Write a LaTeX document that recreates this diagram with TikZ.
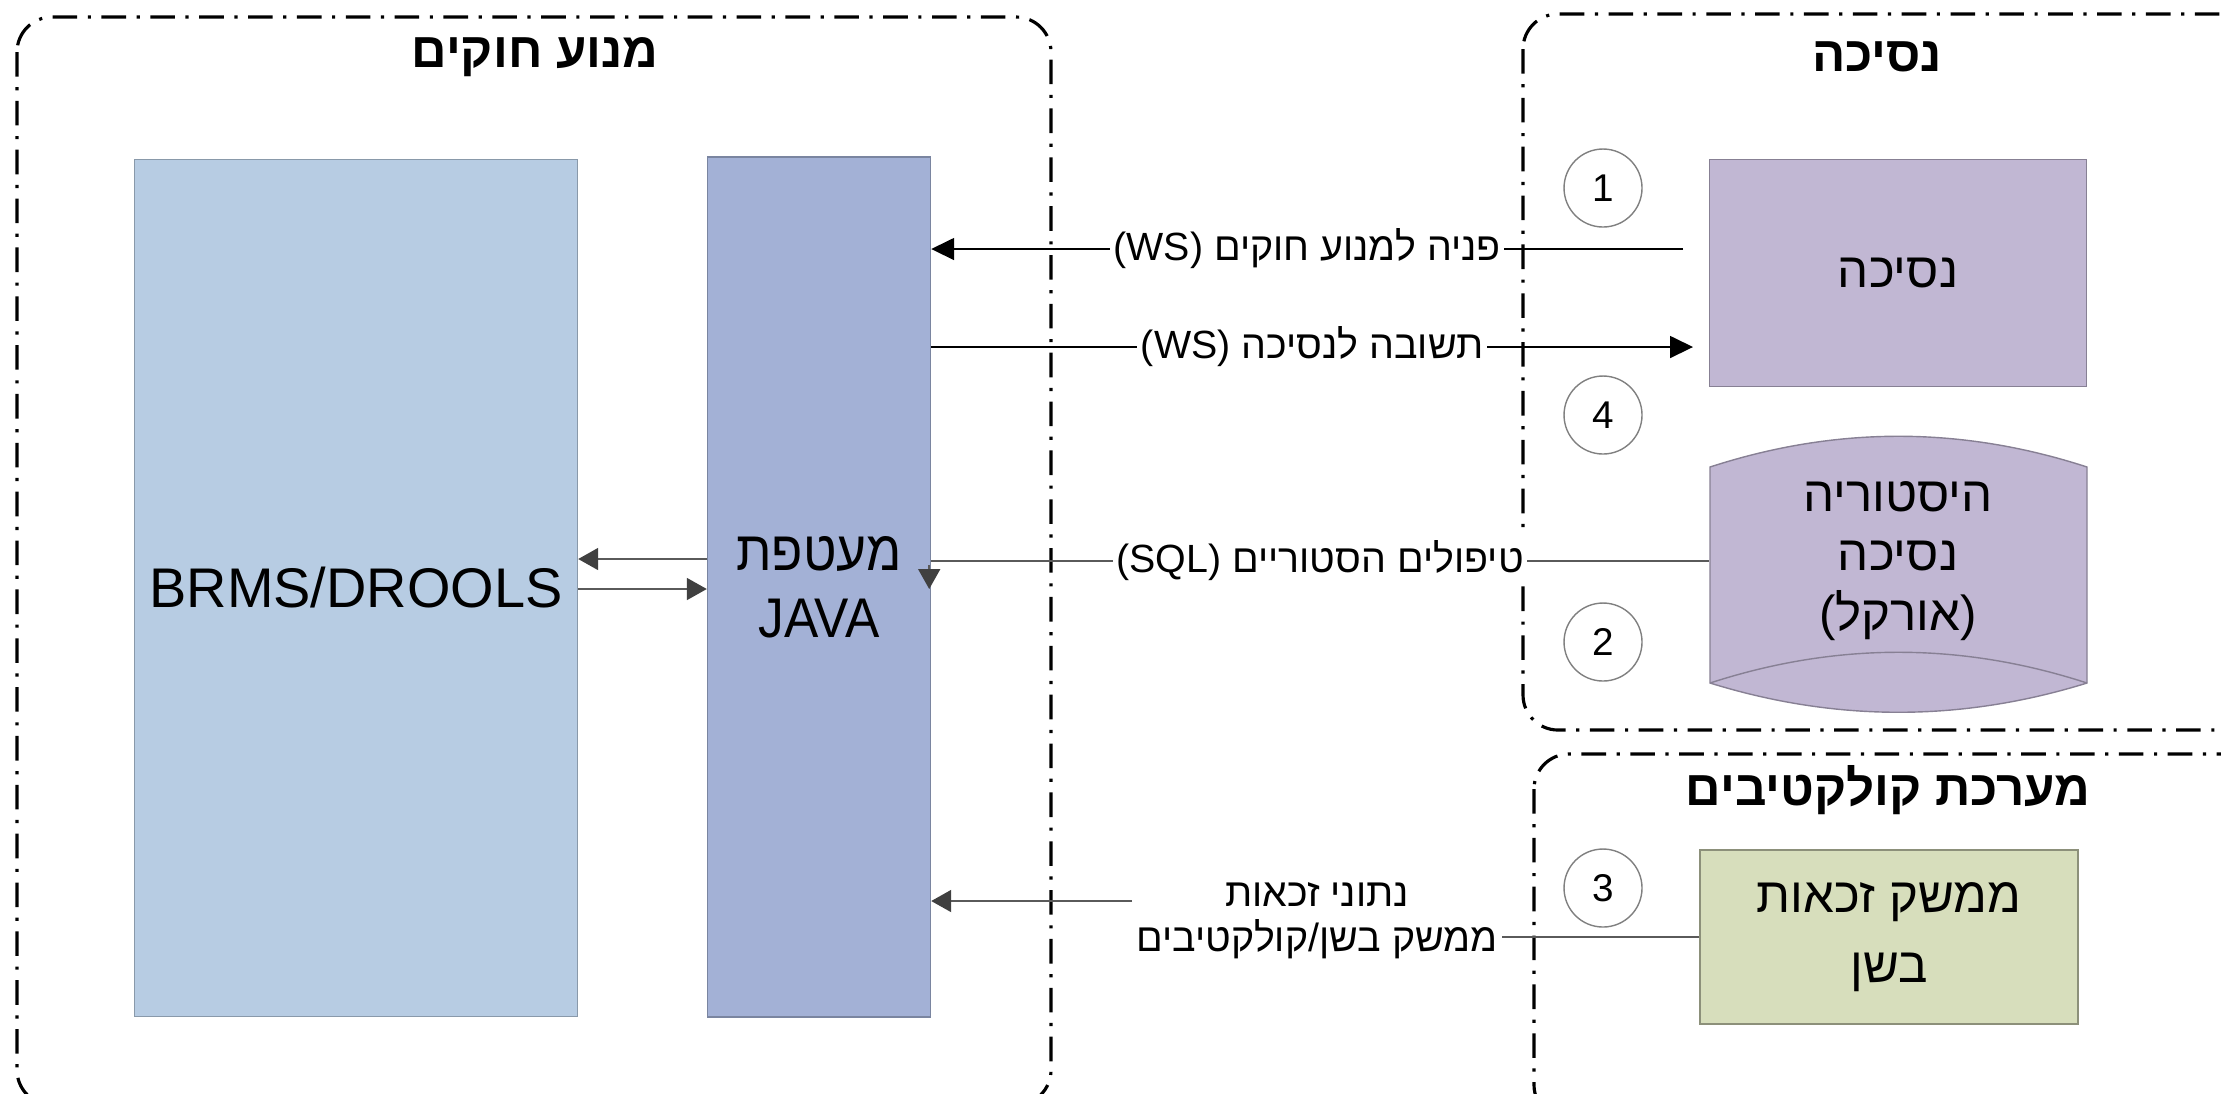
\documentclass[tikz,border=0pt]{standalone}
\usepackage{fontspec}
\setmainfont{Liberation Sans}
\newfontfamily\hebfont[Script=Hebrew]{Liberation Sans}
\TeXXeTstate=1
\usetikzlibrary{positioning,arrows.meta,calc}
\definecolor{brmsblue}{HTML}{B7CCE3}
\definecolor{javablue}{HTML}{A3B1D6}
\definecolor{nesichapurple}{HTML}{C1B7D3}
\definecolor{bashangreen}{HTML}{D7DEBC}
\definecolor{linegray}{HTML}{5A5A5A}
\definecolor{tipgray}{HTML}{404040}
\newcommand{\heb}[1]{{\hebfont\beginR #1\endR}}
\newcommand{\ltr}[1]{\beginL #1\endL{}}
\tikzset{
	frame/.style={draw=black, line width=0.9pt, rounded corners=0.35cm, dash pattern=on 7pt off 3pt on 0.9pt off 3pt}, % the dash-dot system borders
	title/.style={font=\bfseries\fontsize{14}{17}\selectfont},
	box/.style={line width=0.4pt, align=center, font=\fontsize{15.9}{19}\selectfont},
	smallbox/.style={box, font=\fontsize{14}{20}\selectfont},
	numcirc/.style={circle, draw=gray, fill=white, minimum size=0.78cm, inner sep=0pt, font=\fontsize{11}{13}\selectfont},
	lbl/.style={fill=white, inner sep=1pt, align=center, font=\fontsize{11.2}{12.8}\selectfont}, % text on the connectors
	blkarrow/.style={draw=black, line width=0.5pt, -{Triangle[length=0.23cm,width=0.22cm]}},
	grayline/.style={draw=linegray, line width=0.5pt},
	grayarrow/.style={grayline, -{Triangle[length=0.2cm,width=0.22cm,color=tipgray]}},
}
\begin{document}
\begin{tikzpicture}
	\useasboundingbox (0,0) rectangle (22.21,-10.93);
	% systems
	\draw[frame] (0.17,-0.17) rectangle (10.51,-11.05);
	\draw[frame] (15.23,-0.14) rectangle (22.70,-7.30);
	\draw[frame] (15.34,-7.54) rectangle (22.70,-11.20);
	\node[title] (trules) at (5.35,-0.57) {\heb{מנוע חוקים}};
	\node[title] (tnesicha) at (18.77,-0.57) {\heb{נסיכה}};
	\node[title] (tkolektiv) at (18.88,-7.90) {\heb{מערכת קולקטיבים}};
	
	% boxes
	\node[box, fill=brmsblue, draw=brmsblue!75!black, minimum width=4.43cm, minimum height=8.57cm] (brms) at (3.56,-5.88) {BRMS/DROOLS};
	\node[box, fill=javablue, draw=javablue!75!black, minimum width=2.23cm, minimum height=8.60cm, font=\fontsize{15.9}{19}\selectfont\addfontfeatures{FakeStretch=0.92}] (java) at (8.19,-5.87) {\heb{\addfontfeatures{FakeStretch=0.92}מעטפת}\\JAVA};
	\node[smallbox, fill=nesichapurple, draw=nesichapurple!70!black, minimum width=3.77cm, minimum height=2.27cm] (nesicha) at (18.98,-2.73) {\heb{נסיכה}};
	\node[smallbox, fill=bashangreen, draw=bashangreen!65!black, minimum width=3.78cm, minimum height=1.74cm] (bashan) at (18.89,-9.37) {\heb{ממשק זכאות}\\\heb{בשן}};
	
	% database
	\filldraw[fill=nesichapurple, draw=nesichapurple!70!black, line width=0.4pt] (17.10,-4.67) .. controls (18.36,-4.26) and (19.61,-4.26) .. (20.87,-4.67) -- (20.87,-6.83) .. controls (19.61,-7.22) and (18.36,-7.22) .. (17.10,-6.83) -- cycle;
	\draw[nesichapurple!70!black, line width=0.4pt] (17.10,-6.83) .. controls (18.36,-6.42) and (19.61,-6.42) .. (20.87,-6.83);
	\node[smallbox, minimum width=3.77cm, font=\fontsize{14}{17}\selectfont] (db) at (18.98,-5.61) {\heb{היסטוריה}\\\heb{נסיכה}\\\heb{(אורקל)}};
	
	% numbers
	\node[numcirc] (n1) at (16.03,-1.88) {1};
	\node[numcirc] (n4) at (16.03,-4.15) {4};
	\node[numcirc] (n2) at (16.03,-6.42) {2};
	\node[numcirc] (n3) at (16.03,-8.88) {3};
	
	% connectors
	\draw[grayarrow] ([yshift=0.28cm]java.west) -- ([yshift=0.28cm]java.west -| brms.east);
	\draw[grayarrow] ([yshift=-0.01cm]brms.east) -- ([yshift=-0.01cm]brms.east -| java.west);
	
	\coordinate (q1) at (16.83,-2.49);
	\coordinate (q4) at (16.93,-3.47);
	\draw[blkarrow] (q1) -- node[lbl] (l1) {\heb{פניה למנוע חוקים \ltr{(WS)}}} (q1 -| java.east);
	\draw[blkarrow] (q4 -| java.east) -- node[lbl] (l4) {\heb{תשובה לנסיכה \ltr{(WS)}}} (q4);
	
	\draw[grayline] (db.west) -- node[lbl] (l2) {\heb{טיפולים הסטוריים \ltr{(SQL)}}} (db.west -| java.east);
	\coordinate (tipd) at ($(db.west -| java.east)+(-0.02,-0.04)$);
	\draw[grayarrow] (tipd) -- ++(0,-0.24);
	
	\node[lbl] (l3) at (13.17,-9.21) {\heb{נתוני זכאות}\\\heb{ממשק בשן/קולקטיבים}};
	\draw[grayline] (bashan.west) -- (bashan.west -| l3.east);
	\coordinate (q3) at ($(l3.west)+(0,0.2)$);
	\draw[grayarrow] (q3) -- (q3 -| java.east);
\end{tikzpicture}
\end{document}
